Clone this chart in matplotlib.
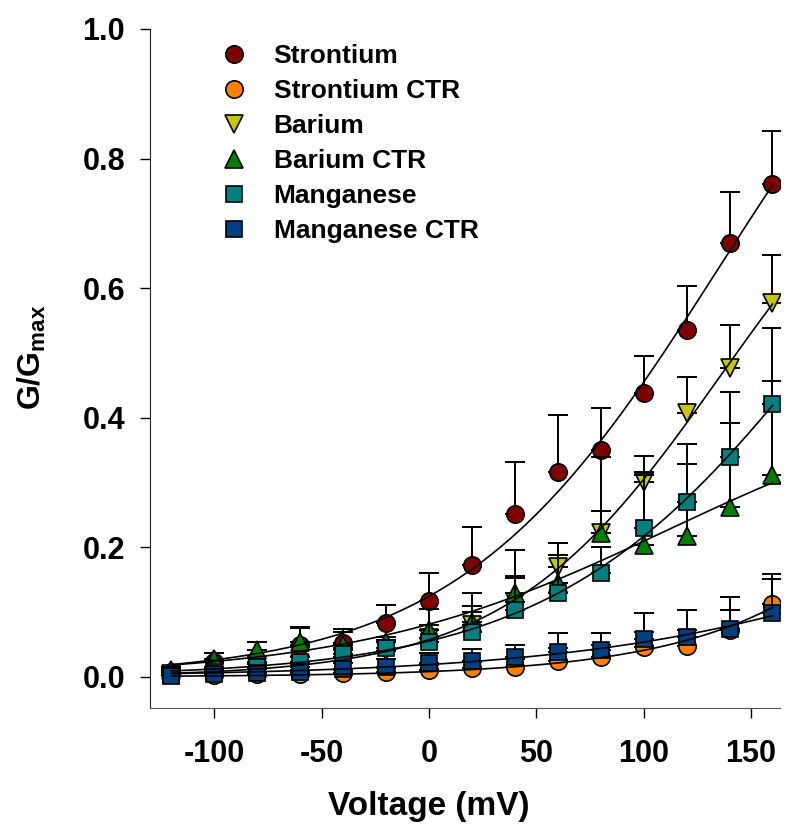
import numpy as np
import matplotlib
matplotlib.use("Agg")
import matplotlib.pyplot as plt

# Membrane voltage steps (mV)
voltage = [-120, -100, -80, -60, -40, -20, 0, 20, 40, 60, 80, 100, 120, 140, 160]

# Normalised conductance G/Gmax (mean) and upper SEM for each condition
strontium = [0.008, 0.023, 0.020, 0.049, 0.052, 0.083, 0.117, 0.172, 0.251, 0.317, 0.350, 0.438, 0.536, 0.670, 0.761]
strontium_err = [0.005, 0.014, 0.012, 0.028, 0.022, 0.028, 0.043, 0.060, 0.081, 0.088, 0.065, 0.058, 0.067, 0.078, 0.082]

strontium_ctr = [0.004, 0.003, 0.004, 0.005, 0.006, 0.007, 0.010, 0.013, 0.016, 0.024, 0.030, 0.046, 0.048, 0.072, 0.113]
strontium_ctr_err = [0.004, 0.004, 0.004, 0.005, 0.005, 0.006, 0.008, 0.010, 0.012, 0.020, 0.020, 0.023, 0.024, 0.031, 0.046]

barium = [0.004, 0.010, 0.015, 0.020, 0.030, 0.040, 0.060, 0.080, 0.116, 0.170, 0.222, 0.301, 0.407, 0.476, 0.577]
barium_err = [0.004, 0.006, 0.008, 0.010, 0.012, 0.015, 0.020, 0.030, 0.040, 0.037, 0.118, 0.040, 0.056, 0.067, 0.074]

barium_ctr = [0.010, 0.028, 0.042, 0.054, 0.049, 0.054, 0.072, 0.085, 0.130, 0.145, 0.222, 0.204, 0.218, 0.262, 0.312]
barium_ctr_err = [0.005, 0.009, 0.012, 0.022, 0.021, 0.008, 0.033, 0.045, 0.066, 0.062, 0.034, 0.108, 0.110, 0.130, 0.145]

manganese = [0.003, 0.008, 0.015, 0.023, 0.035, 0.045, 0.054, 0.069, 0.103, 0.130, 0.160, 0.230, 0.270, 0.340, 0.421]
manganese_err = [0.003, 0.005, 0.006, 0.008, 0.010, 0.012, 0.026, 0.031, 0.050, 0.058, 0.040, 0.086, 0.089, 0.100, 0.117]

manganese_ctr = [0.002, 0.004, 0.006, 0.008, 0.012, 0.016, 0.022, 0.025, 0.030, 0.038, 0.042, 0.058, 0.062, 0.074, 0.098]
manganese_ctr_err = [0.004, 0.005, 0.006, 0.008, 0.010, 0.012, 0.015, 0.018, 0.020, 0.030, 0.026, 0.040, 0.041, 0.049, 0.053]

labels = ["Strontium", "Strontium CTR", "Barium", "Barium CTR", "Manganese", "Manganese CTR"]
colors = ["#800000", "#FF8000", "#C8C800", "#008000", "#008080", "#004080"]
markers = ["o", "o", "v", "^", "s", "s"]
sizes = [12.5, 12.5, 12.5, 12.5, 11, 11]

series = [strontium, strontium_ctr, barium, barium_ctr, manganese, manganese_ctr]
errors = [strontium_err, strontium_ctr_err, barium_err, barium_ctr_err, manganese_err, manganese_ctr_err]

plt.rcParams["font.family"] = ["Liberation Sans", "DejaVu Sans"]
plt.rcParams["font.weight"] = "bold"
plt.rcParams["axes.unicode_minus"] = False
plt.rcParams["mathtext.fontset"] = "custom"
plt.rcParams["mathtext.bf"] = "Liberation Sans:bold"
plt.rcParams["mathtext.rm"] = "Liberation Sans:bold"


def boltzmann_fit(v, g):
    """Least-squares fit of G = A / (1 + exp((V50 - V) / k)) by grid search."""
    v = np.asarray(v, float)
    g = np.asarray(g, float)
    v50 = np.arange(-50.0, 450.0, 1.0)[:, None, None]
    k = np.arange(5.0, 250.0, 1.0)[None, :, None]
    f = 1.0 / (1.0 + np.exp((v50 - v[None, None, :]) / k))
    a = (f * g).sum(-1) / (f * f).sum(-1)
    sse = ((a[..., None] * f - g) ** 2).sum(-1)
    i, j = np.unravel_index(np.argmin(sse), sse.shape)
    return a[i, j], v50[i, 0, 0], k[0, j, 0]


fig = plt.figure(figsize=(8.05, 8.3), dpi=100)
ax = fig.add_axes([150 / 805, 1 - 708 / 830, 630 / 805, 679 / 830])

v = np.asarray(voltage, float)
for n, (y, e, lab, c, m, s) in enumerate(zip(series, errors, labels, colors, markers, sizes)):
    y = np.asarray(y)
    e = np.asarray(e)
    ax.errorbar(v, y, yerr=[np.zeros_like(e), e], fmt="none", ecolor="black",
                elinewidth=1.4, capsize=7.5, capthick=1.4, zorder=2 + 2 * n)
    ax.plot(v, y, ls="none", marker=m, ms=s, mfc=c, mec="black", mew=1.2,
            label=lab, zorder=3 + 2 * n)

vv = np.linspace(voltage[0], voltage[-1], 300)
for y in series:
    a, v50, k = boltzmann_fit(voltage, y)
    ax.plot(vv, a / (1.0 + np.exp((v50 - vv) / k)), color="black", lw=1.2, zorder=20)

ax.set_xlim(-130, 163.5)
ax.set_ylim(-0.048, 1.0)
ax.set_xticks([-100, -50, 0, 50, 100, 150])
ax.set_yticks([0.0, 0.2, 0.4, 0.6, 0.8, 1.0])
ax.set_yticklabels(["0.0", "0.2", "0.4", "0.6", "0.8", "1.0"])
ax.tick_params(axis="both", direction="out", length=7, width=1.0, labelsize=22)
ax.tick_params(axis="x", pad=15)
ax.tick_params(axis="y", pad=11)
for sp in ("top", "right"):
    ax.spines[sp].set_visible(False)
ax.spines["left"].set_color("#222222")
ax.spines["bottom"].set_color("#555555")

# Axis titles
fig.text(429 / 805, 1 - 806 / 830, "Voltage (mV)", fontsize=24, fontweight="bold",
         ha="center", va="center")
fig.text(32 / 805, 1 - 357 / 830, r"$\mathbf{G/G_{max}}$", fontsize=23,
         rotation=90, ha="center", va="center")

leg = ax.legend(loc="upper left", bbox_to_anchor=(0.083, 1.005), frameon=False,
                fontsize=19, handlelength=1.0, handletextpad=1.0, labelspacing=0.42,
                borderaxespad=0.3)
for t in leg.get_texts():
    t.set_fontweight("bold")

fig.savefig("out.png", dpi=100)
